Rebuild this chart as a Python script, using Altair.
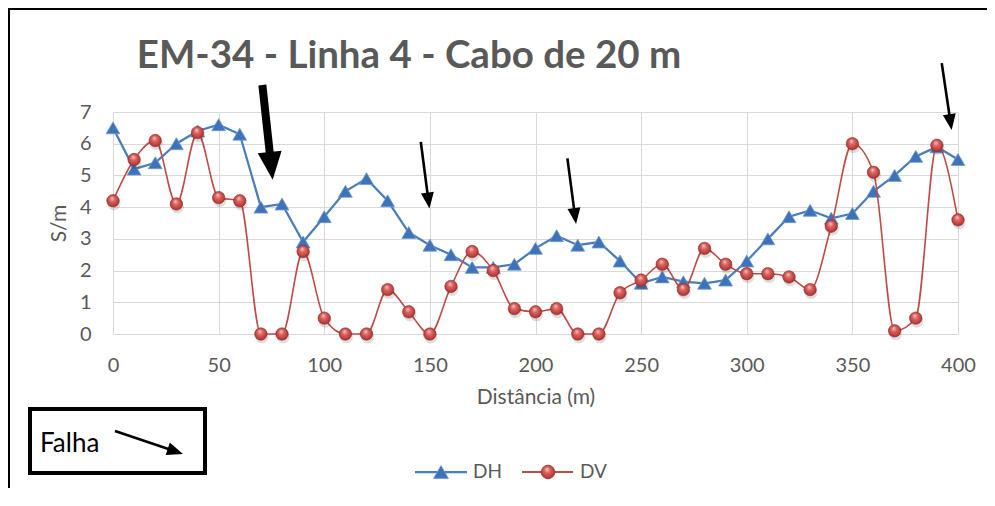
import math
import altair as alt
import pandas as pd

# ---------------- data ----------------
DIST = list(range(0, 401, 10))
DH = [6.5, 5.2, 5.4, 6.0, 6.4, 6.6, 6.3, 4.0, 4.1, 2.9,
      3.7, 4.5, 4.9, 4.2, 3.2, 2.8, 2.5, 2.1, 2.1, 2.2,
      2.7, 3.1, 2.8, 2.9, 2.3, 1.6, 1.8, 1.65, 1.6, 1.7,
      2.3, 3.0, 3.7, 3.9, 3.65, 3.8, 4.5, 5.0, 5.6, 5.9,
      5.5]
DV = [4.2, 5.5, 6.1, 4.1, 6.35, 4.3, 4.2, 0.0, 0.0, 2.6,
      0.5, 0.0, 0.0, 1.4, 0.7, 0.0, 1.5, 2.6, 2.0, 0.8,
      0.7, 0.8, 0.0, 0.0, 1.3, 1.7, 2.2, 1.4, 2.7, 2.2,
      1.9, 1.9, 1.8, 1.4, 3.4, 6.0, 5.1, 0.1, 0.5, 5.95,
      3.6]
SERIES = ["DH", "DV"]
X_TICKS = list(range(0, 401, 50))
Y_TICKS = list(range(0, 8))
TITLE = "EM-34 - Linha 4 - Cabo de 20 m"
X_TITLE = "Distância (m)"
Y_TITLE = "S/m"
NOTE = "Falha"

# annotation arrows (data coordinates): thick one first, the last is the one in the "Falha" box
ARROW_TAIL_X = [70.7, 145.7, 215.1, 392.3, 0.95]
ARROW_TAIL_Y = [7.85, 6.06, 5.54, 8.54, -3.06]
ARROW_TIP_X = [75.6, 149.8, 219.2, 397.0, 33.1]
ARROW_TIP_Y = [4.86, 3.96, 3.47, 6.43, -3.78]

# ---------------- style ----------------
PLOT_W, PLOT_H = 845, 222
FONT = "Lato"
GREY = "#595959"
GRID = "#D9D9D9"
BLUE_LINE = "#4A7EBB"
BLUE_FILL = "#3E73B9"
RED_LINE = "#BE4B48"

SPHERE = alt.RadialGradient(
    gradient="radial",
    stops=[
        alt.GradientStop(offset=0, color="#F8C9C7"),
        alt.GradientStop(offset=0.35, color="#DB6461"),
        alt.GradientStop(offset=0.75, color="#B53C39"),
        alt.GradientStop(offset=1, color="#8C2826"),
    ],
    x1=0.42, y1=0.28, r1=0, x2=0.5, y2=0.5, r2=0.62,
)

SX = alt.Scale(domain=[0, 400], nice=False, zero=False)
SY = alt.Scale(domain=[0, 7], nice=False, zero=False)
AX_X = alt.Axis(values=X_TICKS, grid=True, gridColor=GRID, gridWidth=1, domain=False,
                ticks=False, tickSize=0, labelFlush=False, labelFont=FONT, labelFontSize=20,
                labelColor=GREY, labelPadding=21, titleFont=FONT, titleFontSize=21,
                titleColor=GREY, titleFontWeight="normal", titlePadding=11, format="d")
AX_Y = alt.Axis(values=Y_TICKS, grid=True, gridColor=GRID, gridWidth=1, domain=False,
                ticks=False, tickSize=0, labelFlush=False, labelFont=FONT, labelFontSize=20,
                labelColor=GREY, labelPadding=22, titleFont=FONT, titleFontSize=21,
                titleColor=GREY, titleFontWeight="normal", titlePadding=10, format="d")


def X(field):
    return alt.X(field, type="quantitative", scale=SX, axis=AX_X, title=X_TITLE)


def Y(field):
    return alt.Y(field, type="quantitative", scale=SY, axis=AX_Y, title=Y_TITLE)


df = pd.DataFrame({
    "d": DIST + DIST,
    "v": DH + DV,
    "s": [SERIES[0]] * len(DH) + [SERIES[1]] * len(DV),
})
base = alt.Chart(df).encode(x=X("d"), y=Y("v"))

dh = base.transform_filter(alt.datum.s == SERIES[0])
dv = base.transform_filter(alt.datum.s == SERIES[1])

dh_line = dh.mark_line(color=BLUE_LINE, strokeWidth=2.25)
dh_pts = dh.mark_point(shape="triangle-up", size=190, filled=True, fill=BLUE_FILL,
                       stroke="#6E99D0", strokeWidth=0.8, opacity=1)
dv_line = dv.mark_line(color=RED_LINE, strokeWidth=1.6, interpolate="monotone")
dv_shadow = dv.mark_point(shape="circle", size=170, filled=True, color="#000000",
                          opacity=0.13, yOffset=3, xOffset=1)
dv_pts = dv.mark_point(shape="circle", size=155, filled=True, fill=SPHERE,
                       stroke="#8E2B28", strokeWidth=0.6, opacity=1)

# ---------------- arrows ----------------
KX = PLOT_W / 400.0
KY = PLOT_H / 7.0
rows = []
for i, (tx, ty, px, py) in enumerate(zip(ARROW_TAIL_X, ARROW_TAIL_Y, ARROW_TIP_X, ARROW_TIP_Y)):
    thick = i == 0
    L, W, sw = (28.0, 24.0, 8.0) if thick else (16.0, 13.0, 2.6)
    dxp = (px - tx) * KX
    dyp = -(py - ty) * KY
    n = math.hypot(dxp, dyp)
    back = L - 1.5
    bx = px - back * dxp / n / KX
    by = py + back * dyp / n / KY
    ang = math.degrees(math.atan2(-dxp, dyp)) % 360
    a = W / L
    rows.append({
        "d": tx, "v": ty, "d2": bx, "v2": by, "tipd": px, "tipv": py,
        "sw": sw, "size": L * L, "ang": ang,
        "shape": f"M0,0L{-a:.4f},-2L{a:.4f},-2Z",
    })
arrows = pd.DataFrame(rows)

shafts = alt.Chart(arrows).mark_rule(color="black", strokeCap="butt", clip=False).encode(
    x=X("d"), y=Y("v"), x2="d2:Q", y2="v2:Q",
    strokeWidth=alt.StrokeWidth("sw:Q", scale=None),
)
heads = alt.Chart(arrows).mark_point(filled=True, color="black", opacity=1, clip=False).encode(
    x=X("tipd"), y=Y("tipv"),
    shape=alt.Shape("shape:N", scale=None),
    size=alt.Size("size:Q", scale=None),
    angle=alt.Angle("ang:Q", scale=None),
)

# ---------------- decorations (pixel positions) ----------------
one = pd.DataFrame({"k": [0]})
frame_top = alt.Chart(one).mark_rule(color="black", strokeWidth=2).encode(
    x=alt.value(-105), x2=alt.value(880), y=alt.value(-103))
frame_left = alt.Chart(one).mark_rule(color="black", strokeWidth=2).encode(
    x=alt.value(-104), y=alt.value(-104), y2=alt.value(376))

title = alt.Chart(one).mark_text(text=TITLE, font=FONT, fontSize=38.5, fontWeight="bold",
                                 color=GREY, align="center", baseline="alphabetic").encode(
    x=alt.value(296), y=alt.value(-44))

box = alt.Chart(one).mark_rect(fill="white", stroke="black", strokeWidth=4).encode(
    x=alt.value(-83), x2=alt.value(92), y=alt.value(297), y2=alt.value(361))
note = alt.Chart(one).mark_text(text=NOTE, font=FONT, fontSize=26, color="black",
                                align="left", baseline="alphabetic").encode(
    x=alt.value(-73), y=alt.value(340))

# legend
LEG_Y = 360
leg = []
leg.append(alt.Chart(one).mark_rule(color=BLUE_LINE, strokeWidth=2.25).encode(
    x=alt.value(302), x2=alt.value(354), y=alt.value(LEG_Y)))
leg.append(alt.Chart(one).mark_point(shape="triangle-up", size=220, filled=True, fill=BLUE_FILL,
                                     stroke="#6E99D0", strokeWidth=0.8, opacity=1).encode(
    x=alt.value(328), y=alt.value(LEG_Y)))
leg.append(alt.Chart(one).mark_text(text=SERIES[0], font=FONT, fontSize=19, color=GREY,
                                    align="left", baseline="middle").encode(
    x=alt.value(360), y=alt.value(LEG_Y)))
leg.append(alt.Chart(one).mark_rule(color=RED_LINE, strokeWidth=1.8).encode(
    x=alt.value(409), x2=alt.value(460), y=alt.value(LEG_Y)))
leg.append(alt.Chart(one).mark_point(shape="circle", size=190, filled=True, fill=SPHERE,
                                     stroke="#8E2B28", strokeWidth=0.6, opacity=1).encode(
    x=alt.value(435), y=alt.value(LEG_Y)))
leg.append(alt.Chart(one).mark_text(text=SERIES[1], font=FONT, fontSize=19, color=GREY,
                                    align="left", baseline="middle").encode(
    x=alt.value(467), y=alt.value(LEG_Y)))

chart = alt.layer(
    dh_line, dh_pts, dv_line, dv_shadow, dv_pts,
    frame_top, frame_left, title, box, note, *leg,
    shafts, heads,
).properties(
    width=PLOT_W, height=PLOT_H,
    autosize=alt.AutoSizeParams(type="none"),
    padding={"left": 105, "top": 104, "right": 29, "bottom": 154},
    background="white",
).configure_view(stroke=None)

chart.save("out.html", embed_options={"renderer": "svg", "actions": False})
